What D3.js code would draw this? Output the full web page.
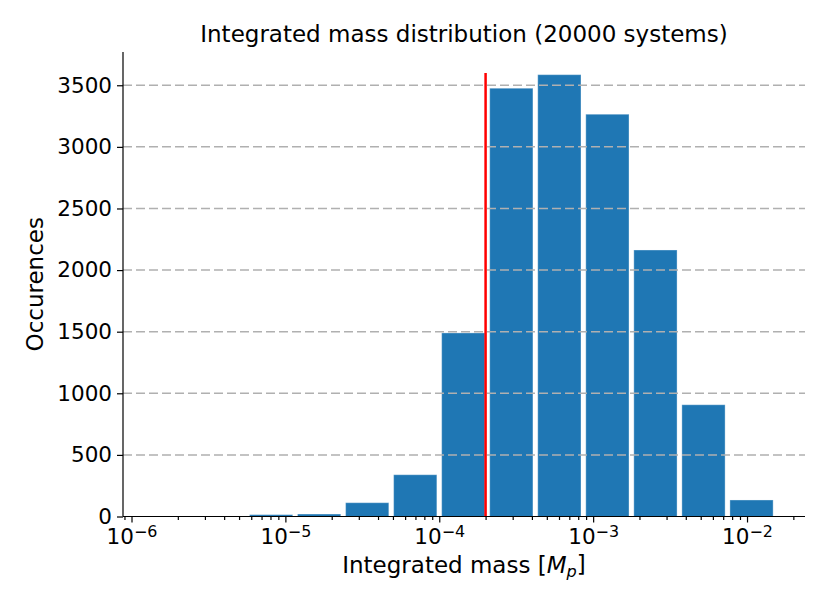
<!DOCTYPE html>
<html>
<head>
<meta charset="utf-8">
<script src="https://cdn.jsdelivr.net/npm/d3@7"></script>
<style>
    body { margin: 0; background: #fff; }
    text { font-family: "DejaVu Sans", sans-serif; fill: #000; }
</style>
</head>
<body>
<div id="histogram"></div>
<script>
'use strict'

////////////////////////////////////
/////////////// data ///////////////
////////////////////////////////////

// log-spaced bin edges [M_p]
const binEdges = [1.339e-6, 2.748e-6, 5.640e-6, 1.157e-5, 2.375e-5, 4.873e-5, 1.0e-4,
    2.052e-4, 4.211e-4, 8.642e-4, 1.773e-3, 3.639e-3, 7.467e-3, 1.532e-2]
// occurrences per bin
const counts = [0, 0, 15, 20, 112, 339, 1490, 3476, 3586, 3265, 2163, 907, 134]

const xMajorTicks = [1e-6, 1e-5, 1e-4, 1e-3, 1e-2]
const xTickExponents = ['−6', '−5', '−4', '−3', '−2']
const yTicks = [0, 500, 1000, 1500, 2000, 2500, 3000, 3500]

// red reference line
const markerMass = 2e-4
const markerTop = 3600

const title = 'Integrated mass distribution (20000 systems)'
const yLabel = 'Occurences'

////////////////////////////////////
//////////// svg setup /////////////
////////////////////////////////////

const svgWidth = 830
const svgHeight = 609

const margin = { left: 123, right: 25, top: 52, bottom: 92.5 }
const width = svgWidth - margin.left - margin.right
const height = svgHeight - margin.top - margin.bottom

const body = d3.select('#histogram')

const svg = body.append('svg')
    .attr('width', svgWidth)
    .attr('height', svgHeight)
    .append('g')
    .attr('transform', `translate(${margin.left},${margin.top})`)

const tickSize = 21.5
const labelSize = 23
const rwidth = 0.9

////////////////////////////////////
////////////// scales //////////////
////////////////////////////////////

const xScale = d3.scaleLog()
    .domain([8.805e-7, 2.381e-2])
    .range([0, width])

const yScale = d3.scaleLinear()
    .domain([0, 3770])
    .range([height, 0])

////////////////////////////////////
/////////////// bars ///////////////
////////////////////////////////////

const bins = counts.map((c, i) => ({ x0: binEdges[i], x1: binEdges[i + 1], count: c }))

svg.append('g')
    .selectAll('rect')
    .data(bins.filter(d => d.count > 0))
    .join('rect')
    .attr('x', d => {
        const a = xScale(d.x0), b = xScale(d.x1)
        return a + (b - a) * (1 - rwidth) / 2
    })
    .attr('width', d => (xScale(d.x1) - xScale(d.x0)) * rwidth)
    .attr('y', d => yScale(d.count))
    .attr('height', d => height - yScale(d.count))
    .attr('fill', '#1f77b4')
    .attr('stroke', '#ffffff')
    .attr('stroke-opacity', 0.35)
    .attr('stroke-width', 1)

// dashed grid (drawn over the bars like matplotlib)
svg.append('g')
    .selectAll('line')
    .data(yTicks.filter(t => t > 0))
    .join('line')
    .attr('x1', 0)
    .attr('x2', width)
    .attr('y1', d => yScale(d))
    .attr('y2', d => yScale(d))
    .attr('stroke', '#b0b0b0')
    .attr('stroke-width', 1.5)
    .attr('stroke-dasharray', '9,4')

// reference line
svg.append('line')
    .attr('x1', xScale(markerMass))
    .attr('x2', xScale(markerMass))
    .attr('y1', yScale(0))
    .attr('y2', yScale(markerTop))
    .attr('stroke', '#ff0000')
    .attr('stroke-width', 2.5)

////////////////////////////////////
/////////////// axis ///////////////
////////////////////////////////////

// minor ticks 2..9 x 10^k inside the domain
const [dmin, dmax] = xScale.domain()
const minorTicks = []
for (let e = -7; e <= -1; e++) {
    for (let m = 2; m <= 9; m++) {
        const v = m * Math.pow(10, e)
        if (v >= dmin && v <= dmax) minorTicks.push(v)
    }
}

const xMinor = svg.append('g')
    .attr('transform', `translate(0,${height})`)
    .call(d3.axisBottom(xScale).tickValues(minorTicks).tickSize(3.5).tickFormat(''))

const xAxis = svg.append('g')
    .attr('transform', `translate(0,${height})`)
    .call(d3.axisBottom(xScale).tickValues(xMajorTicks).tickSize(6).tickFormat(''))

xAxis.selectAll('.tick').each(function(d, i) {
    const t = d3.select(this).append('text')
        .attr('y', 27)
        .attr('text-anchor', 'middle')
        .style('font-size', tickSize + 'px')
    t.append('tspan').text('10')
    t.append('tspan')
        .attr('dy', '-0.42em')
        .style('font-size', (tickSize * 0.74) + 'px')
        .text(xTickExponents[i])
})

const yAxis = svg.append('g')
    .call(d3.axisLeft(yScale).tickValues(yTicks).tickSize(6).tickPadding(5).tickFormat(d3.format('d')))

yAxis.selectAll('text')
    .style('font-size', tickSize + 'px')
    .attr('fill', '#000')

// only left and bottom spines
xAxis.select('.domain').attr('d', `M0,0H${width}`)
xMinor.select('.domain').remove()
yAxis.select('.domain').attr('d', `M0,0V${height}`)

svg.selectAll('.domain, .tick line')
    .attr('stroke', '#000')
    .attr('stroke-width', 1.2)

////////////////////////////////////
////////////// labels //////////////
////////////////////////////////////

svg.append('text')
    .attr('x', width / 2)
    .attr('y', -10)
    .attr('text-anchor', 'middle')
    .style('font-size', labelSize + 'px')
    .text(title)

const xl = svg.append('text')
    .attr('x', width / 2)
    .attr('y', height + 56)
    .attr('text-anchor', 'middle')
    .style('font-size', labelSize + 'px')
xl.append('tspan').text('Integrated mass [')
xl.append('tspan').style('font-style', 'italic').text('M')
xl.append('tspan')
    .attr('dy', '0.25em')
    .style('font-style', 'italic')
    .style('font-size', (labelSize * 0.7) + 'px')
    .text('p')
xl.append('tspan').attr('dy', '-0.18em').text(']')

svg.append('text')
    .attr('transform', `translate(${-80},${height / 2}) rotate(-90)`)
    .attr('text-anchor', 'middle')
    .style('font-size', labelSize + 'px')
    .text(yLabel)
</script>
</body>
</html>
